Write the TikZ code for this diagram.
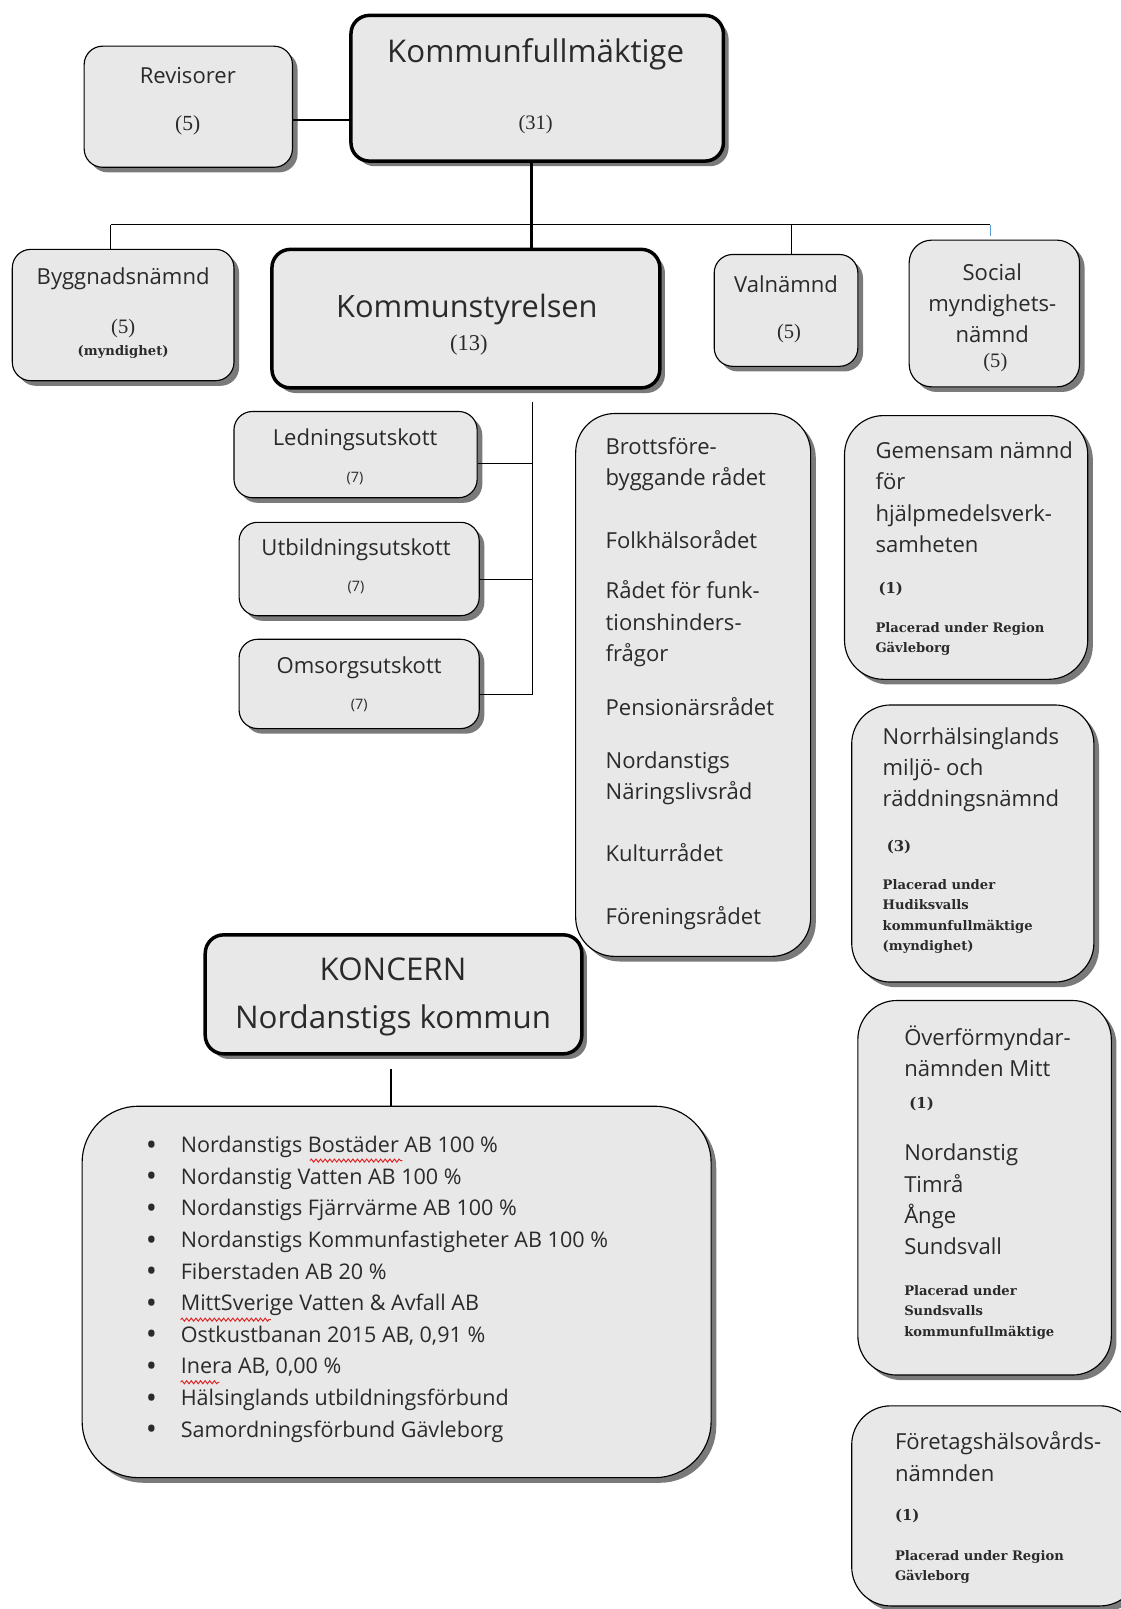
\documentclass[tikz,border=0pt]{standalone}
\usepackage{fontspec}
\setmainfont{Open Sans}
\newfontfamily\numfont{Liberation Serif}
\newfontfamily\notefont{DejaVu Serif}
\usetikzlibrary{shadows,decorations.pathmorphing}
\definecolor{boxgray}{HTML}{E8E8E8}
\definecolor{shadegray}{HTML}{7A7A7A}
\definecolor{inkgray}{HTML}{2A2A2A}
\definecolor{wavered}{HTML}{E02020}
\definecolor{tickblue}{HTML}{5B9BD5}
\newcommand{\blt}{\makebox[34pt][l]{\raisebox{-2.5pt}{\fontsize{29}{29}\selectfont•}}}

\begin{document}
\begin{tikzpicture}[x=1pt,y=-1pt,
  box/.style={draw=black, line width=1.1pt, fill=boxgray, rounded corners=18pt, inner sep=0pt,
    drop shadow={shadow xshift=5pt, shadow yshift=-5pt, fill=shadegray, opacity=1}},
  bigbox/.style={box, line width=3.4pt},
  roundbox/.style={box, rounded corners=38pt},
  lbl/.style={text=inkgray, inner sep=0pt, font=\fontsize{21.5}{30.5}\selectfont},
  big/.style={text=inkgray, inner sep=0pt, font=\fontsize{30.5}{47}\selectfont},
  num/.style={text=inkgray, inner sep=0pt, font=\numfont\fontsize{20}{24}\selectfont},
  seven/.style={text=inkgray, inner sep=0pt, font=\fontsize{14}{16}\selectfont},
  note/.style={text=inkgray, inner sep=0pt, align=left, font=\notefont\bfseries\fontsize{12.8}{20}\selectfont},
  count/.style={note, font=\notefont\bfseries\fontsize{14.5}{20}\selectfont, anchor=west},
  link/.style={line width=1.2pt},
  spellwave/.style={wavered, line width=0.9pt, decorate, decoration={snake, amplitude=1.5pt, segment length=4.5pt}}]

\useasboundingbox (0,0) rectangle (1092,1568);

% boxes
\node[box, minimum width=203pt, minimum height=118pt] (rev) at (183.5,104) {};
\node[bigbox, minimum width=363pt, minimum height=142pt] (kf) at (523.5,86) {};
\node[box, minimum width=216pt, minimum height=128pt] (bygg) at (120,307) {};
\node[bigbox, minimum width=378pt, minimum height=135pt] (ks) at (454,310.5) {};
\node[box, minimum width=140pt, minimum height=109pt] (val) at (766,302.5) {};
\node[box, rounded corners=22pt, minimum width=166pt, minimum height=143pt] (soc) at (969,305.5) {};
\node[box, minimum width=237pt, minimum height=84pt] (led) at (346.5,443) {};
\node[box, minimum width=234pt, minimum height=91pt] (utb) at (350,554.5) {};
\node[box, minimum width=234pt, minimum height=87pt] (oms) at (350,666.5) {};
\node[roundbox, minimum width=229pt, minimum height=529pt] (rad) at (675.5,667.5) {};
\node[roundbox, minimum width=237pt, minimum height=257pt] (gem) at (941.5,533.5) {};
\node[roundbox, minimum width=236pt, minimum height=270pt] (norr) at (948,822) {};
\node[roundbox, minimum width=247pt, minimum height=365pt] (over) at (959.5,1157.5) {};
\node[roundbox, minimum width=280pt, minimum height=195pt] (fore) at (970,1467.5) {};
\node[bigbox, minimum width=367pt, minimum height=116pt] (koncern) at (383.5,969) {};
\node[box, rounded corners=55pt, minimum width=613pt, minimum height=362pt] (list) at (386.5,1259) {};

% connectors
\coordinate (busleft) at (108,219);
\coordinate (busright) at (965,219);
\coordinate (tickend) at (965,230);
\coordinate (ksdrop) at (519,392);
\draw[link] ([yshift=-13pt]rev.east) -- ([yshift=-13pt]rev.east -| kf.west);
\draw[line width=3.4pt] ([xshift=-5.5pt]kf.south) -- ([xshift=-5.5pt]kf.south |- ks.north);
\draw[link] (busleft) -- (busright);
\draw[link] (busleft) -- (busleft |- bygg.north);
\draw[link] ([xshift=5pt]val.north |- busleft) -- ([xshift=5pt]val.north);
\draw[tickblue, line width=1pt] (busright) -- (tickend);
\draw[link] (ksdrop) |- ([yshift=-10.5pt]oms.east);
\draw[link] ([yshift=-9pt]led.east) -- ([yshift=-9pt]led.east -| ksdrop);
\draw[link] ([yshift=-10.5pt]utb.east) -- ([yshift=-10.5pt]utb.east -| ksdrop);
\draw[link] ([xshift=-2.5pt,yshift=-13pt]koncern.south) -- ([xshift=-2.5pt]koncern.south |- list.north);

% texts
\node[big] (kfname) at (522,53) {Kommunfullmäktige};
\node[num] (kfnum) at (522,121) {(31)};
\node[lbl] (revname) at (183,74) {Revisorer};
\node[num, font=\numfont\fontsize{21}{24}\selectfont] (revnum) at (183,122) {(5)};
\node[lbl] (byggname) at (120,272) {Byggnadsnämnd};
\node[num] (byggnum) at (120,320) {(5)};
\node[note] (byggnote) at (120,343) {(myndighet)};
\node[big, font=\fontsize{30}{47}\selectfont] (ksname) at (455,302) {Kommunstyrelsen};
\node[num, font=\numfont\fontsize{22}{24}\selectfont] (ksnum) at (457,336) {(13)};
\node[lbl] (valname) at (766,277) {Valnämnd};
\node[num] (valnum) at (769,325) {(5)};
\node[lbl, align=center] (socname) at (967,295.5) {Social\\myndighets-\\nämnd};
\node[num] (socnum) at (970,353) {(5)};
\node[lbl] (ledname) at (346,429) {Ledningsutskott};
\node[seven] (lednum) at (346,466) {(7)};
\node[lbl] (utbname) at (347,536) {Utbildningsutskott};
\node[seven] (utbnum) at (347,573) {(7)};
\node[lbl] (omsname) at (350,651) {Omsorgsutskott};
\node[seven] (omsnum) at (350,688) {(7)};
\node[lbl, align=left, anchor=west] (radlist) at (590,666) {Brottsföre-\\byggande rådet\\[31pt]Folkhälsorådet\\[18.5pt]Rådet för funk-\\tionshinders-\\frågor\\[22.5pt]Pensionärsrådet\\[20.5pt]Nordanstigs\\Näringslivsråd\\[30pt]Kulturrådet\\[30.5pt]Föreningsrådet};
\node[lbl, align=left, anchor=west] (gemname) at (853,484.5) {Gemensam nämnd\\för\\hjälpmedelsverk-\\samheten};
\node[count] (gemnum) at (856,574) {(1)};
\node[note, anchor=west] (gemnote) at (853,622.5) {Placerad under Region\\Gävleborg};
\node[lbl, align=left, anchor=west] (norrname) at (860,750) {Norrhälsinglands\\miljö- och\\räddningsnämnd};
\node[count] (norrnum) at (864,825) {(3)};
\node[note, anchor=west] (norrnote) at (860,893) {Placerad under\\Hudiksvalls\\kommunfullmäktige\\(myndighet)};
\node[lbl, align=left, anchor=west] (overname) at (881,1024.5) {Överförmyndar-\\nämnden Mitt};
\node[count] (overnum) at (886,1076) {(1)};
\node[lbl, align=left, anchor=west] (overkommun) at (881,1169) {Nordanstig\\Timrå\\Ånge\\Sundsvall};
\node[note, anchor=west] (overnote) at (881,1279) {Placerad under\\Sundsvalls\\kommunfullmäktige};
\node[lbl, align=left, anchor=west] (forename) at (872,1419.5) {Företagshälsovårds-\\nämnden};
\node[count] (forenum) at (872,1477) {(1)};
\node[note, anchor=west] (forenote) at (872,1527) {Placerad under Region\\Gävleborg};
\node[big, align=center] (koncernname) at (383,971.5) {KONCERN\\Nordanstigs kommun};
\node[lbl, align=left, anchor=west, font=\fontsize{21}{30.8}\selectfont] (bolag) at (142,1256.5) {%
\blt Nordanstigs Bostäder AB 100 \%\\
\blt Nordanstig Vatten AB 100 \%\\
\blt Nordanstigs Fjärrvärme AB 100 \%\\
\blt Nordanstigs Kommunfastigheter AB 100 \%\\
\blt Fiberstaden AB 20 \%\\
\blt MittSverige Vatten \& Avfall AB\\
\blt Ostkustbanan 2015 AB, 0,91 \%\\
\blt Inera AB, 0,00 \%\\
\blt Hälsinglands utbildningsförbund\\
\blt Samordningsförbund Gävleborg};

% spelling marks
\draw[spellwave] (302,1131) -- (392,1131);
\draw[spellwave] (176,1286) -- (264,1286);
\draw[spellwave] (176,1347) -- (214,1347);
\end{tikzpicture}
\end{document}
